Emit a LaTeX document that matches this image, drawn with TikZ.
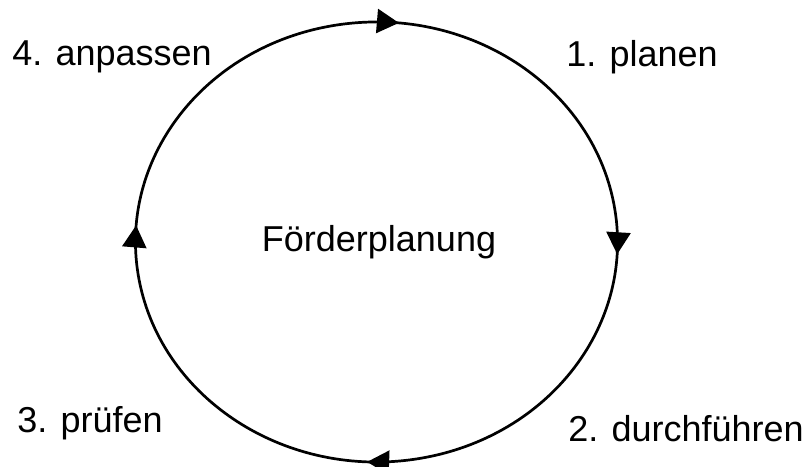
\documentclass[tikz,border=0pt]{standalone}
\usepackage{fontspec}
\setmainfont{Liberation Sans}
\usetikzlibrary{arrows.meta,decorations.markings}

\begin{document}
\begin{tikzpicture}[
  x=1pt, y=1pt,
  stage/.style={anchor=base, inner sep=0pt, text=black, font=\fontsize{36}{43}\selectfont},
  ring/.style={line width=2.7pt, black, postaction={decorate}, decoration={markings,
    mark=at position 0.035 with {\arrow{Triangle[length=22pt, width=24pt]}},
    mark=at position 0.283 with {\arrow{Triangle[length=22pt, width=24pt]}},
    mark=at position 0.538 with {\arrow{Triangle[length=22pt, width=24pt]}},
    mark=at position 0.792 with {\arrow{Triangle[length=22pt, width=24pt]}}}}
]
\useasboundingbox (0,0) rectangle (808,466);
\coordinate (mid) at (376.5,224);
\draw[ring] (mid) ++(10:241 and 220)
  arc[start angle=10, end angle=-350, x radius=241, y radius=220];

\node[stage] (plan) at (379,214) {Förderplanung};
\node[stage] (adapt) at (112,400) {4. anpassen};
\node[stage] (step1) at (642,399) {1. planen};
\node[stage] (check) at (90,34) {3. prüfen};
\node[stage] (run) at (686,25) {2. durchführen};
\end{tikzpicture}
\end{document}
